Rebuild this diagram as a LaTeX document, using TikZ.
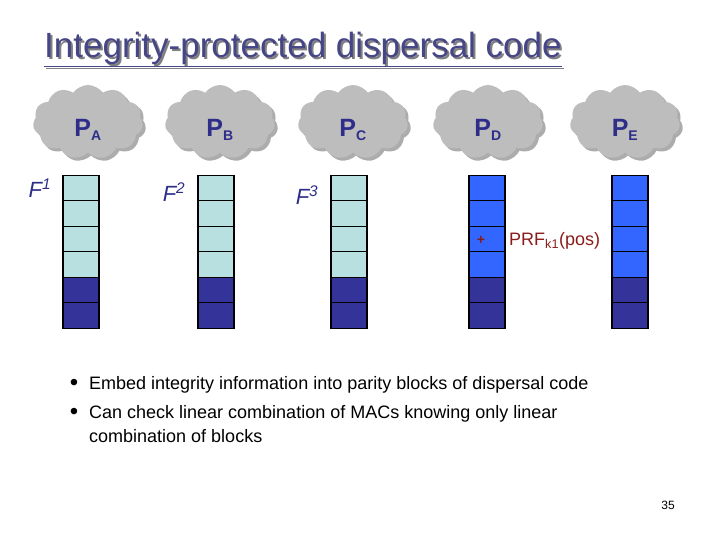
\documentclass[tikz,border=0pt]{standalone}
\usepackage{fontspec}
\setmainfont{Liberation Sans}
\usetikzlibrary{shapes.symbols,shadows}
\definecolor{navy}{HTML}{2E2E8A}
\definecolor{light}{HTML}{B8E0E0}
\definecolor{dark}{HTML}{333399}
\definecolor{bright}{HTML}{3366FF}
\definecolor{prf}{HTML}{8B1A1A}
\definecolor{cloudg}{HTML}{BDBDBD}
\tikzset{
  blk/.style={draw=black,line width=1.2pt,minimum width=36pt,minimum height=25.5pt,inner sep=0pt},
  cl/.style={cloud,cloud puffs=11,cloud puff arc=110,aspect=1.6,fill=cloudg,draw=none,minimum width=110pt,minimum height=74pt,
    drop shadow={shadow xshift=3pt,shadow yshift=-3pt,fill=gray!70!black}},
  plab/.style={text=navy,font=\bfseries\fontsize{25}{26}\selectfont},
  flab/.style={text=navy,font=\itshape\fontsize{22}{24}\selectfont},
}
\begin{document}
\begin{tikzpicture}[x=1pt,y=-1pt]
\useasboundingbox (0,0) rectangle (720,540);
\node[anchor=base west,text=gray,font=\fontsize{35}{36}\selectfont,inner sep=0] at (46,60) {\underline{Integrity-protected dispersal code}};
\node[anchor=base west,text=navy!70!gray,font=\fontsize{35}{36}\selectfont,inner sep=0] (title) at (44,58) {\underline{Integrity-protected dispersal code}};
\foreach \i/\x/\s in {1/88/A,2/220/B,3/353/C,4/488/D,5/625/E}{
  \node[cl] (c\i) at (\x,122) {};
  \node[plab] (p\i) at (\x,130) {P\textsubscript{\fontsize{14}{14}\selectfont\s}};
}
\foreach \i/\x in {1/81,2/216,3/349}{
  \foreach \r in {0,...,5}{
    \ifnum\r<4 \def\c{light}\else\def\c{dark}\fi
    \node[blk,fill=\c] (b\i\r) at (\x,188+\r*25.5) {};
  }
}
\foreach \i/\x in {4/487,5/630}{
  \foreach \r in {0,...,5}{
    \ifnum\r<4 \def\c{bright}\else\def\c{dark}\fi
    \node[blk,fill=\c] (b\i\r) at (\x,188+\r*25.5) {};
  }
}
\node[flab] (f1) at (40,188) {F\textsuperscript{1}};
\node[flab] (f2) at (174,192) {F\textsuperscript{2}};
\node[flab] (f3) at (307,195) {F\textsuperscript{3}};
\node[text=prf,font=\bfseries\fontsize{14}{14}\selectfont] (plus) at (481,240) {+};
\node[text=prf,font=\fontsize{18}{20}\selectfont,anchor=west,inner sep=0] (prf) at (509,241) {PRF\textsubscript{k1}(pos)};
\node[anchor=base west,font=\fontsize{18}{20}\selectfont,inner sep=0] (t1) at (89,389) {Embed integrity information into parity blocks of dispersal code};
\node[anchor=base west,font=\fontsize{18}{20}\selectfont,inner sep=0] (t2) at (89,418) {Can check linear combination of MACs knowing only linear};
\node[anchor=base west,font=\fontsize{18}{20}\selectfont,inner sep=0] (t3) at (89,442) {combination of blocks};
\node[anchor=base,font=\fontsize{24}{24}\selectfont,inner sep=0] (d1) at (74,390) {•};
\node[anchor=base,font=\fontsize{24}{24}\selectfont,inner sep=0] (d2) at (74,419) {•};
\node[anchor=base,font=\fontsize{12}{14}\selectfont,inner sep=0] (pg) at (668,509) {35};
\end{tikzpicture}
\end{document}
